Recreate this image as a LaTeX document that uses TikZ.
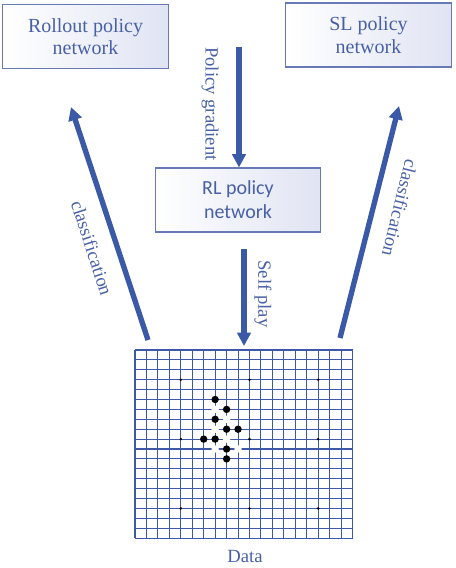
\documentclass[tikz,border=0pt]{standalone}
\usepackage{fontspec}
\setmainfont{Liberation Serif}
\newfontfamily\boxserif{Liberation Serif}
\newfontfamily\boxsans{Carlito}
\usepackage{tikz}
\usetikzlibrary{arrows.meta,calc}

\definecolor{arrowblue}{RGB}{58,90,168}
\definecolor{textblue}{RGB}{72,96,166}
\definecolor{boxline}{RGB}{104,122,182}
\definecolor{boxfill}{RGB}{224,228,243}
\definecolor{gridblue}{RGB}{62,88,168}

\tikzset{
  netbox/.style={draw=boxline, line width=0.8pt, left color=white, right color=boxfill,
    minimum width=124pt, minimum height=48pt, align=center, text=textblue,
    font=\boxserif\fontsize{15}{17}\selectfont},
  bigarrow/.style={arrowblue, line width=4pt, -{Triangle[length=10pt,width=10pt]}},
  lbl/.style={text=textblue, font=\boxserif\fontsize{14}{16}\selectfont, inner sep=0pt},
  stoneb/.style={fill=black},
  stonew/.style={fill=white}
}

\begin{document}
\begin{tikzpicture}[x=0.75pt,y=-0.75pt]
\useasboundingbox (0,0) rectangle (455,568);

\node[netbox] (1) at (85.5,36.5) {Rollout policy\\network};
\node[netbox] (2) at (368.5,35) {SL policy\\network};
\node[netbox, font=\boxsans\fontsize{15}{18}\selectfont] (3) at (238,200) {RL policy\\network};

% board
\foreach \i in {0,...,19} {
  \draw[gridblue, line width=0.8pt] (135+\i*11.45,350) -- (135+\i*11.45,538);
  \draw[gridblue, line width=0.8pt] (135,350+\i*9.9) -- (353,350+\i*9.9);
}
\node[inner sep=0pt, minimum width=163.5pt, minimum height=141pt] (4) at (244,444) {};
\foreach \c in {4,10,16}
  \foreach \r in {3,9,16}
    \fill[black] (135+\c*11.45,350+\r*9.9) circle (1.4);
\foreach \c/\r in {7/6,8/7,7/8,8/9,7/10,9/10}
  \fill[stonew] (135+\c*11.45,350+\r*9.9) circle (3.7);
\foreach \c/\r in {7/5,8/6,7/7,8/8,9/8,6/9,7/9,8/10,8/11}
  \fill[stoneb] (135+\c*11.45,350+\r*9.9) circle (3.7);
\node[lbl] (5) at (245,556) {Data};

\coordinate (a1) at (148,340);
\coordinate (a2) at (71,107);
\coordinate (b1) at (340,338);
\coordinate (b2) at (399,106);
\coordinate (c1) at (239,47);
\coordinate (d1) at (244,249);
\coordinate (d2) at (244,346);

\draw[bigarrow] (a1) -- (a2);
\draw[bigarrow] (b1) -- (b2);
\draw[bigarrow] (c1) -- (c1 |- 3.north);
\draw[bigarrow] (d1) -- (d2);

\node[lbl, rotate=-90] (6) at (210,104) {Policy gradient};
\node[lbl, rotate=-90] (7) at (263,294) {Self play};
\node[lbl, rotate=-72] (8) at (92,248) {classification};
\node[lbl, rotate=-104] (9) at (400,208) {classification};
\end{tikzpicture}
\end{document}
